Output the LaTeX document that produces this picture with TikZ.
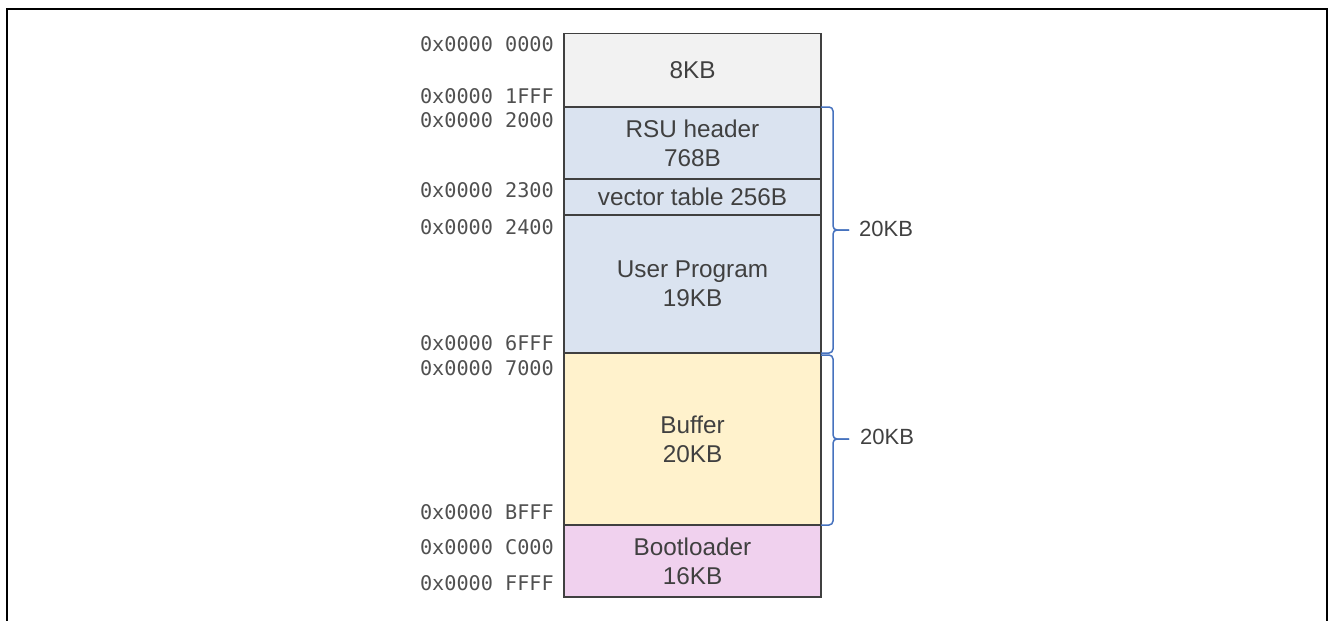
\documentclass[tikz,border=0pt]{standalone}
\usepackage{fontspec}
\setmainfont{Liberation Sans}
\newfontfamily\addrfont{DejaVu Sans Mono}
\usetikzlibrary{calc}

\definecolor{txtgray}{HTML}{404040}
\definecolor{addrgray}{HTML}{505050}
\definecolor{edgegray}{HTML}{404040}
\definecolor{freegray}{HTML}{F2F2F2}
\definecolor{progblue}{HTML}{DAE3F0}
\definecolor{bufyellow}{HTML}{FFF2CC}
\definecolor{bootpink}{HTML}{F0D1EE}
\definecolor{braceblue}{RGB}{70,114,190}

\tikzset{
  region/.style={draw=edgegray, line width=1.8pt, outer sep=0pt, inner sep=0pt,
    anchor=north west, minimum width=257pt, align=center, text=txtgray,
    font=\fontsize{24.3}{29}\selectfont},
  addr/.style={anchor=east, inner sep=0pt, text=addrgray,
    font=\addrfont\fontsize{20.2}{22}\selectfont},
  bracepath/.style={draw=braceblue, line width=1.5pt, rounded corners=4pt},
  sizelabel/.style={anchor=west, inner sep=0pt, text=txtgray,
    font=\fontsize{22}{26}\selectfont},
}

\begin{document}
\begin{tikzpicture}[x=1pt, y=-1pt]
\useasboundingbox (0,0) rectangle (1328,621);

% outer frame (open at the bottom)
\draw[line width=2.2pt] (7,621) -- (7,9) -- (1327,9) -- (1327,621);

% memory regions
\node[region, fill=freegray,  minimum height=73.5pt] (free) at (564,33.5) {8KB};
\node[region, fill=progblue,  minimum height=72pt]   (rsu)  at (564,107)  {RSU header\\768B};
\node[region, fill=progblue,  minimum height=36pt]   (vec)  at (564,179)  {vector table 256B};
\node[region, fill=progblue,  minimum height=138pt]  (user) at (564,215)  {User Program\\19KB};
\node[region, fill=bufyellow, minimum height=172pt]  (buf)  at (564,353)  {Buffer\\20KB};
\node[region, fill=bootpink,  minimum height=72pt]   (boot) at (564,525)  {Bootloader\\16KB};

% addresses
\node[addr] (a0000) at (554,44.5)  {0x0000 0000};
\node[addr] (a1fff) at (554,95.7)  {0x0000 1FFF};
\node[addr] (a2000) at (554,120)   {0x0000 2000};
\node[addr] (a2300) at (554,190)   {0x0000 2300};
\node[addr] (a2400) at (554,226.7) {0x0000 2400};
\node[addr] (a6fff) at (554,343)   {0x0000 6FFF};
\node[addr] (a7000) at (554,368)   {0x0000 7000};
\node[addr] (abfff) at (554,511.7) {0x0000 BFFF};
\node[addr] (ac000) at (554,546.7) {0x0000 C000};
\node[addr] (affff) at (554,583)   {0x0000 FFFF};

% braces
\coordinate (tipA) at ($(rsu.north east)!0.5!(user.south east)+(28,0)$);
\coordinate (spineA) at ($(tipA)+(-16,0)$);
\draw[bracepath] (rsu.north east) -| (spineA) -- (tipA);
\draw[bracepath] (user.south east) -| (spineA) -- (tipA);
\node[sizelabel] (szA) at ($(tipA)+(10,-1)$) {20KB};

\coordinate (tipB) at ($(buf.north east)!0.5!(buf.south east)+(28,0)$);
\coordinate (spineB) at ($(tipB)+(-16,0)$);
\draw[bracepath] ($(buf.north east)+(0,2)$) -| (spineB) -- (tipB);
\draw[bracepath] (buf.south east) -| (spineB) -- (tipB);
\node[sizelabel] (szB) at ($(tipB)+(11,-2)$) {20KB};
\end{tikzpicture}
\end{document}
